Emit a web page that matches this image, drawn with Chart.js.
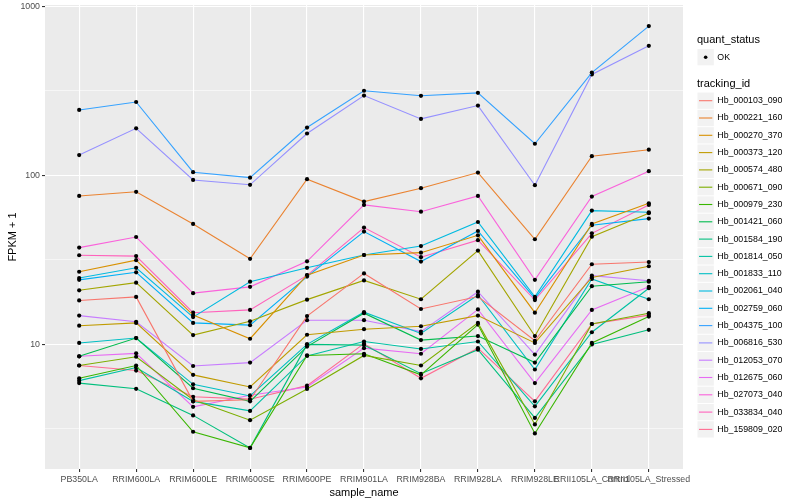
<!DOCTYPE html>
<html>
<head>
<meta charset="utf-8">
<script src="https://cdn.jsdelivr.net/npm/chart.js@4"></script>
<style>
  html, body { margin: 0; padding: 0; background: #fff; }
  #wrap { width: 800px; height: 500px; }
</style>
</head>
<body>
<div id="wrap"><canvas id="fpkmChart" width="800" height="500"></canvas></div>
<script>
// sample names on the x axis
const categories = ['PB350LA', 'RRIM600LA', 'RRIM600LE', 'RRIM600SE', 'RRIM600PE', 'RRIM901LA',
    'RRIM928BA', 'RRIM928LA', 'RRIM928LE', 'RRII105LA_Control', 'RRII105LA_Stressed'];

// FPKM + 1 per tracking id
const hb_000103_090 = [18.2, 19.1, 4.6, 4.7, 14.7, 26.3, 16.2, 19.2, 10.5, 29.8, 30.7];
const hb_000221_160 = [75.6, 80, 51.6, 32.1, 95, 70, 84, 104, 41.9, 130, 142];
const hb_000270_370 = [26.9, 31.5, 14.9, 10.8, 25.7, 33.8, 34.9, 44.2, 15.4, 51.6, 68.4];
const hb_000373_120 = [12.9, 13.4, 6.6, 5.6, 11.4, 12.3, 12.8, 14.8, 10.2, 24.9, 29.0];
const hb_000574_480 = [20.9, 23.2, 11.35, 13.7, 18.4, 23.9, 18.5, 35.9, 11.2, 43.4, 59.7];
const hb_000671_090 = [7.5, 8.45, 4.7, 3.56, 5.45, 8.6, 7.5, 13.4, 3.36, 13.2, 15.3];
const hb_000979_230 = [6.3, 7.5, 3.04, 2.44, 8.6, 8.8, 6.6, 13.1, 2.97, 10.2, 14.6];
const hb_001421_060 = [8.5, 10.9, 5.5, 4.6, 9.7, 15.3, 10.6, 11.2, 7.8, 22.1, 23.5];
const hb_001584_190 = [5.9, 5.46, 3.8, 2.44, 10.0, 9.9, 6.7, 9.3, 3.67, 10.0, 12.2];
const hb_001814_050 = [6.1, 7.3, 4.6, 4.04, 8.55, 10.4, 9.4, 10.4, 4.3, 11.8, 21.5];
const hb_001833_110 = [10.2, 10.9, 5.8, 4.95, 10.0, 15.5, 11.6, 19.6, 7.1, 24.4, 18.5];
const hb_002061_040 = [24.7, 28.4, 14.5, 23.5, 28.4, 33.8, 38.2, 53, 19.1, 61.9, 60.5];
const hb_002759_060 = [24.1, 26.7, 13.4, 13.0, 25.2, 46.5, 30.9, 46.9, 18.7, 50.7, 55.5];
const hb_004375_100 = [244, 272, 104.5, 97, 192, 317, 296, 308, 154, 406, 765];
const hb_006816_530 = [132, 190, 94, 88, 177, 297, 216, 259, 87.5, 396, 585];
const hb_012053_070 = [14.8, 13.6, 7.45, 7.8, 13.9, 13.9, 11.9, 20.5, 8.7, 25.5, 23.8];
const hb_012675_060 = [8.5, 8.85, 4.27, 5.0, 5.6, 9.5, 8.8, 16.1, 5.9, 16.0, 21.9];
const hb_027073_040 = [37.4, 43.2, 20.1, 21.9, 31, 66.9, 61, 75.6, 24.1, 75, 106];
const hb_033834_040 = [33.7, 33.3, 15.4, 16.0, 25.6, 49.1, 32.8, 41.4, 18.3, 45.4, 66.9];
const hb_159809_020 = [7.5, 7.0, 4.9, 4.74, 5.7, 10.1, 6.3, 9.5, 4.6, 13.2, 14.9];

const trackingIds = ['Hb_000103_090', 'Hb_000221_160', 'Hb_000270_370', 'Hb_000373_120', 'Hb_000574_480',
    'Hb_000671_090', 'Hb_000979_230', 'Hb_001421_060', 'Hb_001584_190', 'Hb_001814_050',
    'Hb_001833_110', 'Hb_002061_040', 'Hb_002759_060', 'Hb_004375_100', 'Hb_006816_530',
    'Hb_012053_070', 'Hb_012675_060', 'Hb_027073_040', 'Hb_033834_040', 'Hb_159809_020'];
const seriesValues = [hb_000103_090, hb_000221_160, hb_000270_370, hb_000373_120, hb_000574_480,
    hb_000671_090, hb_000979_230, hb_001421_060, hb_001584_190, hb_001814_050,
    hb_001833_110, hb_002061_040, hb_002759_060, hb_004375_100, hb_006816_530,
    hb_012053_070, hb_012675_060, hb_027073_040, hb_033834_040, hb_159809_020];

// y axis breaks
const yTicks = [10, 100, 1000];
const yMinor = [3.162, 31.62, 316.2];

// ggplot hue palette for 20 groups
const colors = ['#F8766D', '#EA8331', '#D89000', '#C09B00', '#A3A500', '#7CAE00', '#39B600', '#00BB4E',
    '#00BF7D', '#00C1A3', '#00BFC4', '#00BAE0', '#00B0F6', '#35A2FF', '#9590FF', '#C77CFF',
    '#E76BF3', '#FA62DB', '#FF62BC', '#FF6C91'];

const FONT = '"Liberation Sans", Arial, sans-serif';

// grey panel behind the grid
const panelBg = {
    id: 'panelBg',
    beforeDraw(chart) {
        const { ctx, chartArea: a } = chart;
        ctx.save();
        ctx.fillStyle = '#ffffff';
        ctx.fillRect(0, 0, chart.width, chart.height);
        ctx.fillStyle = '#EBEBEB';
        ctx.fillRect(a.left, a.top, a.right - a.left, a.bottom - a.top);
        ctx.restore();
    }
};

// ggplot style legend on the right
const sideLegend = {
    id: 'sideLegend',
    afterDraw(chart) {
        const ctx = chart.ctx;
        const x0 = 697, key = 17.3;
        ctx.save();
        ctx.textBaseline = 'middle';
        ctx.textAlign = 'left';

        ctx.fillStyle = '#000';
        ctx.font = '11px ' + FONT;
        ctx.fillText('quant_status', x0, 40);
        ctx.fillStyle = '#F2F2F2';
        ctx.fillRect(x0 + 0.5, 49, key - 1, key - 1);
        ctx.fillStyle = '#000';
        ctx.beginPath();
        ctx.arc(x0 + key / 2, 57.2, 1.8, 0, Math.PI * 2);
        ctx.fill();
        ctx.font = '8.8px ' + FONT;
        ctx.fillText('OK', x0 + key + 3, 57.2);

        ctx.font = '11px ' + FONT;
        ctx.fillText('tracking_id', x0, 84);

        ctx.font = '8.8px ' + FONT;
        chart.data.datasets.forEach((ds, i) => {
            const cy = 100.7 + i * key;
            // key background with a thin white border, like ggplot
            ctx.fillStyle = '#F2F2F2';
            ctx.fillRect(x0 + 0.5, cy - key / 2 + 0.5, key - 1, key - 1);
            ctx.strokeStyle = ds.borderColor;
            ctx.lineWidth = 1.1;
            ctx.beginPath();
            ctx.moveTo(x0 + 2, cy);
            ctx.lineTo(x0 + key - 2, cy);
            ctx.stroke();
            ctx.fillStyle = '#000';
            ctx.fillText(ds.label, x0 + key + 3, cy);
        });
        ctx.restore();
    }
};

const datasets = seriesValues.map((vals, i) => ({
    label: trackingIds[i],
    data: vals.map((v, j) => ({ x: j, y: v })),
    borderColor: colors[i],
    backgroundColor: colors[i],
    borderWidth: 1.1,
    pointRadius: 2.1,
    pointBackgroundColor: '#000',
    pointBorderWidth: 0,
    tension: 0,
    fill: false
}));

new Chart(document.getElementById('fpkmChart'), {
    type: 'line',
    data: { datasets },
    options: {
        responsive: false,
        animation: false,
        events: [],
        layout: { padding: { top: 5, right: 117, bottom: 0, left: 0 } },
        plugins: { legend: { display: false }, tooltip: { enabled: false } },
        scales: {
            x: {
                type: 'linear',
                min: -0.6,
                max: 10.6,
                afterBuildTicks: scale => {
                    scale.ticks = categories.map((c, i) => ({ value: i }));
                },
                afterFit: scale => {
                    scale.height = 31;
                    scale.paddingLeft = 0;
                    scale.paddingRight = 0;
                },
                grid: { color: '#ffffff', lineWidth: 1.1, tickLength: 3, tickColor: '#333333' },
                border: { display: false },
                ticks: {
                    autoSkip: false,
                    maxRotation: 0,
                    minRotation: 0,
                    padding: 2,
                    color: '#4D4D4D',
                    font: { family: FONT, size: 8.8 },
                    callback: v => categories[v]
                },
                title: {
                    display: true,
                    text: 'sample_name',
                    color: '#000',
                    font: { family: FONT, size: 11 },
                    padding: { top: 5, bottom: 0 }
                }
            },
            y: {
                type: 'logarithmic',
                min: 1.83,
                max: 1020,
                afterBuildTicks: scale => {
                    scale.ticks = yMinor.concat(yTicks).sort((a, b) => a - b).map(v => ({ value: v }));
                },
                afterFit: scale => {
                    scale.width = 45;
                    scale.paddingTop = 0;
                    scale.paddingBottom = 0;
                },
                grid: {
                    color: '#ffffff',
                    lineWidth: c => yTicks.includes(c.tick.value) ? 1.1 : 0.55,
                    tickLength: 3,
                    tickColor: c => yTicks.includes(c.tick.value) ? '#333333' : 'rgba(0,0,0,0)'
                },
                border: { display: false },
                ticks: {
                    padding: 2,
                    color: '#4D4D4D',
                    font: { family: FONT, size: 8.8 },
                    callback: v => yTicks.includes(v) ? String(v) : ''
                },
                title: {
                    display: true,
                    text: 'FPKM + 1',
                    color: '#000',
                    font: { family: FONT, size: 11 },
                    padding: { top: 6, bottom: 0 }
                }
            }
        }
    },
    plugins: [panelBg, sideLegend]
});
</script>
</body>
</html>
